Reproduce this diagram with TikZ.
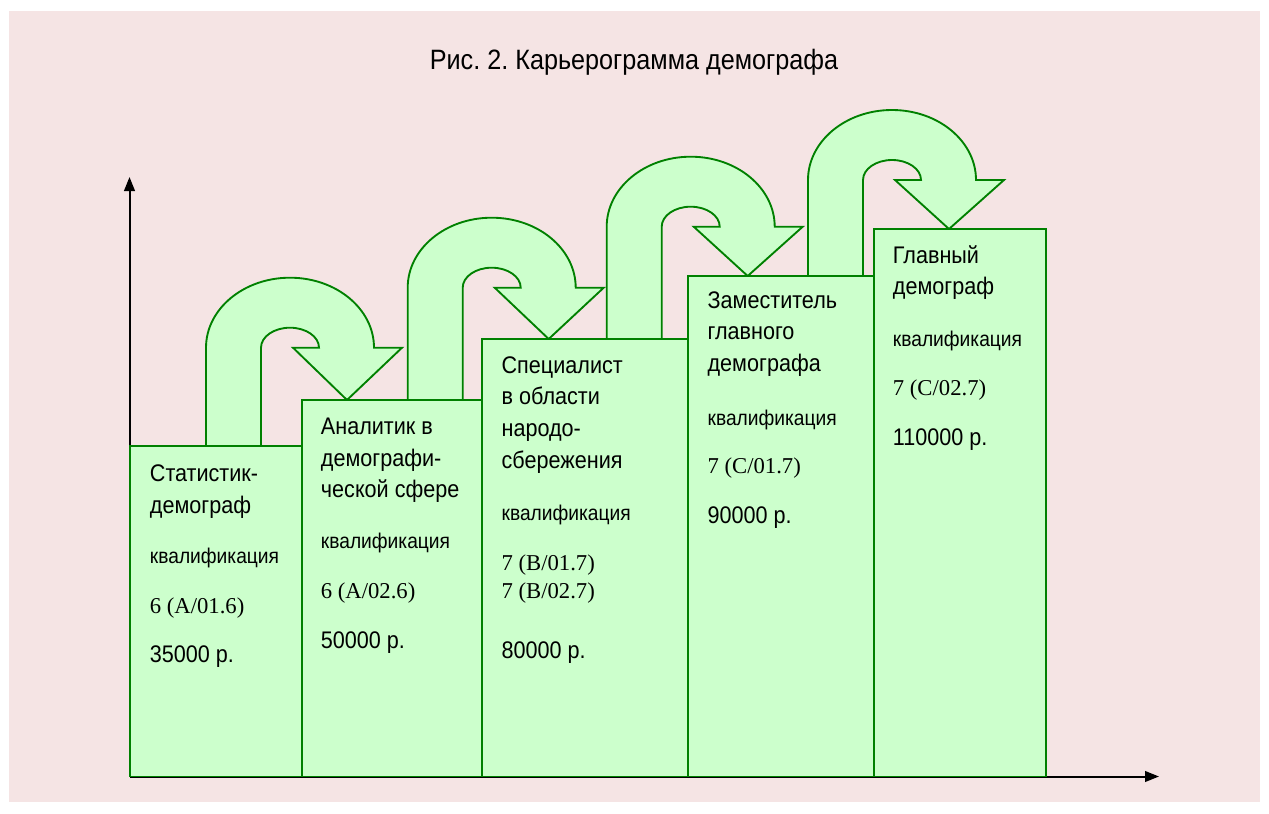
\documentclass[tikz,border=0pt]{standalone}
\usepackage{fontspec}
\setmainfont{Liberation Sans}
\newfontfamily\stepfont[FakeStretch=0.9]{Liberation Sans}
\newfontfamily\codefont{Liberation Serif}
\usetikzlibrary{arrows.meta}
\frenchspacing

\definecolor{bgpink}{RGB}{245,228,228}
\definecolor{stepfill}{RGB}{204,255,204}
\definecolor{stepline}{RGB}{0,128,0}

\tikzset{every picture/.style={line width=1.4pt}}
\tikzset{
  stepbox/.style={draw=stepline, fill=stepfill, line width=1.4pt},
  uturn/.style={draw=stepline, fill=stepfill, line width=1.4pt, line join=miter},
  axis/.style={black, line width=1.5pt, -{Triangle[length=10.5pt,width=8pt]}},
  name text/.style={anchor=base west, inner sep=0pt, font=\stepfont\fontsize{18}{21}\selectfont},
  qual text/.style={anchor=base west, inner sep=0pt, font=\stepfont\fontsize{16}{19}\selectfont},
  code text/.style={anchor=base west, inner sep=0pt, font=\codefont\fontsize{17}{20}\selectfont},
}

% #1 left x, #2 arc base y, #3 foot y, #4 tip y
\newcommand{\careerarrow}[4]{%
  \draw[uturn] (#1,#3) -- (#1,#2)
    arc[start angle=180, end angle=360, x radius=84, y radius=70]
    -- (#1+196,#2) -- (#1+141,#4) -- (#1+87,#2) -- (#1+113,#2)
    arc[start angle=0, end angle=-180, x radius=29, y radius=20]
    -- (#1+55,#3) -- cycle;}

\begin{document}
\begin{tikzpicture}[x=0.75pt,y=0.75pt,yscale=-1,xscale=1]
\useasboundingbox (0,0) rectangle (1269,813);
\fill[bgpink] (9,11) rectangle (1260,802);

% Title
\node[anchor=base, font=\stepfont\fontsize{21}{24}\selectfont] (title) at (634,70) {Рис. 2. Карьерограмма демографа};

% Axes
\coordinate (O) at (129.5,776.5);
\coordinate (ytop) at (129.5,177);
\coordinate (xend) at (1159,776.5);
\draw[axis] (O) -- (ytop);
\draw[axis] (O) -- (xend);

% U-turn arrows
\careerarrow{206}{347.7}{446}{400}
\careerarrow{407.7}{287.7}{400}{339}
\careerarrow{606.7}{226.7}{339}{276}
\careerarrow{808}{180}{276}{229}

% Steps
\draw[stepbox] (130,446) rectangle (302,776.5);
\draw[stepbox] (302,400) rectangle (482,776.5);
\draw[stepbox] (482,339) rectangle (688,776.5);
\draw[stepbox] (688,276) rectangle (874,776.5);
\draw[stepbox] (874,229) rectangle (1046,776.5);

% Step 1
\foreach \ln [count=\i] in {Статистик-,демограф}
  \node[name text] (n1-\i) at (149,481.7+31.7*\i-31.7) {\ln};
\node[qual text] (q1) at (149,563) {квалификация};
\node[code text] (c1) at (149,613) {6 (A/01.6)};
\node[name text] (s1) at (149,662.7) {35000 р.};

% Step 2
\foreach \ln [count=\i] in {Аналитик в,демографи-,ческой сфере}
  \node[name text] (n2-\i) at (320,434.3+31.7*\i-31.7) {\ln};
\node[qual text] (q2) at (320,548) {квалификация};
\node[code text] (c2) at (320,598) {6 (A/02.6)};
\node[name text] (s2) at (320,648) {50000 р.};

% Step 3
\foreach \ln [count=\i] in {Специалист,в области,народо-,сбережения}
  \node[name text] (n3-\i) at (500.7,373+31.7*\i-31.7) {\ln};
\node[qual text] (q3) at (500.7,520) {квалификация};
\node[code text] (c3a) at (500.7,570.7) {7 (B/01.7)};
\node[code text] (c3b) at (500.7,598) {7 (B/02.7)};
\node[name text] (s3) at (500.7,658) {80000 р.};

% Step 4
\foreach \ln [count=\i] in {Заместитель,главного,демографа}
  \node[name text] (n4-\i) at (706.7,308+31.7*\i-31.7) {\ln};
\node[qual text] (q4) at (706.7,425) {квалификация};
\node[code text] (c4) at (706.7,473) {7 (C/01.7)};
\node[name text] (s4) at (706.7,523) {90000 р.};

% Step 5
\foreach \ln [count=\i] in {Главный,демограф}
  \node[name text] (n5-\i) at (892,263+31.7*\i-31.7) {\ln};
\node[qual text] (q5) at (892,346) {квалификация};
\node[code text] (c5) at (892,395) {7 (C/02.7)};
\node[name text] (s5) at (892,445) {110000 р.};
\end{tikzpicture}
\end{document}
